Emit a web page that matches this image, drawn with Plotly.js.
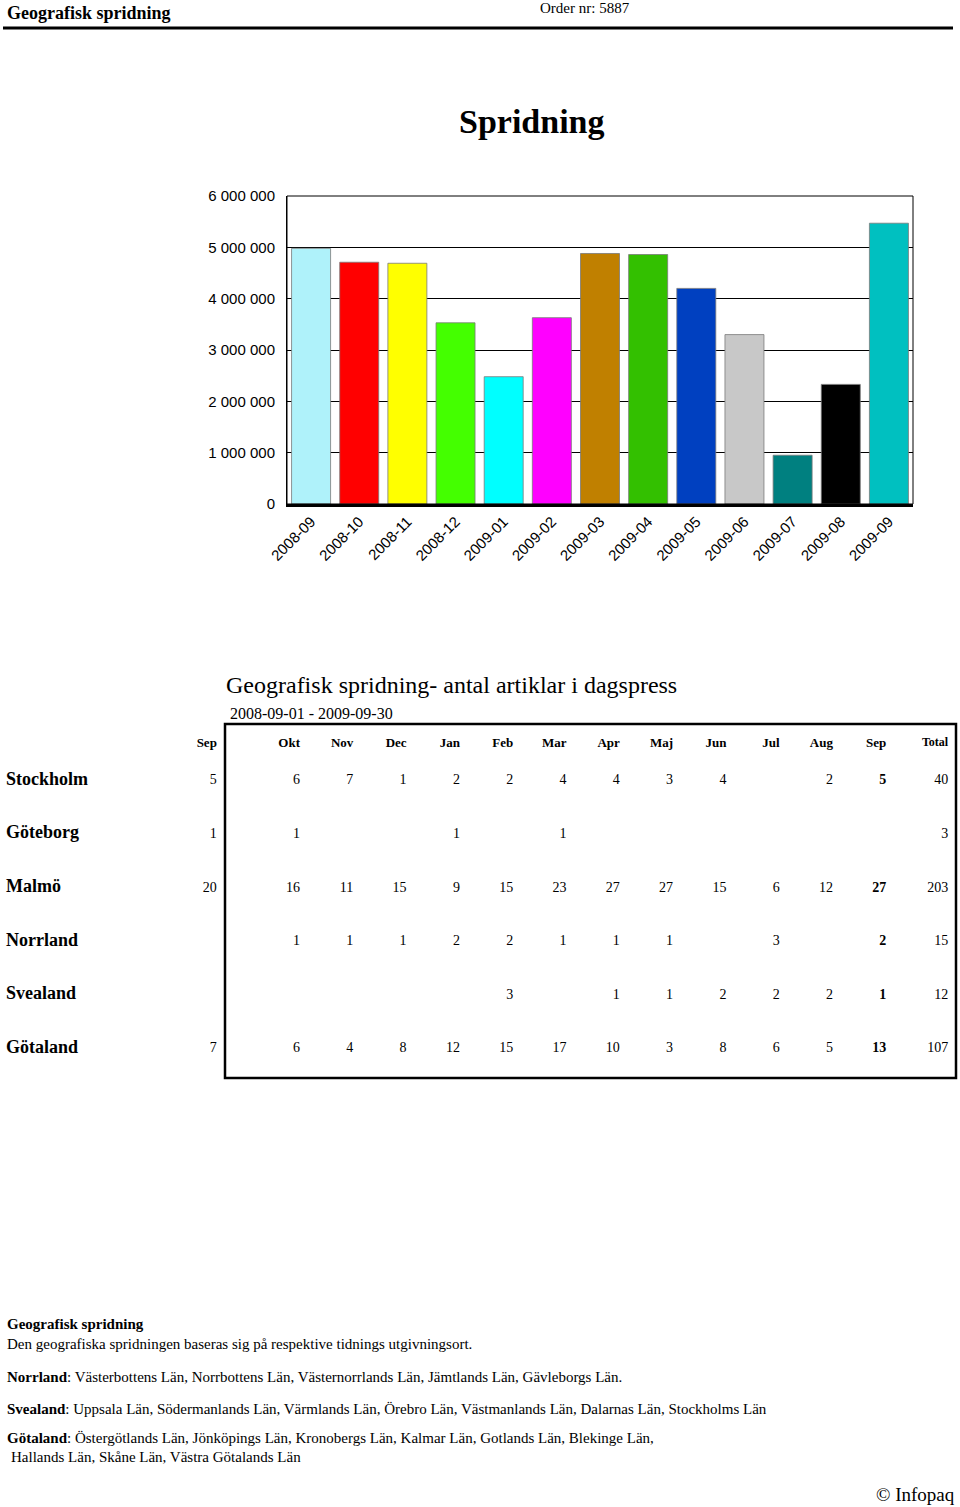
<!DOCTYPE html>
<html><head><meta charset="utf-8">
<script src="https://cdn.plot.ly/plotly-3.0.1.min.js"></script>
<style>html,body{margin:0;padding:0;background:#fff}#chart{width:960px;height:1507px}</style>
</head><body><div id="chart"></div>
<script>
// ---- data ----
const months = ['2008-09','2008-10','2008-11','2008-12','2009-01','2009-02','2009-03','2009-04','2009-05','2009-06','2009-07','2009-08','2009-09'];
const reach = [4980000,4710000,4690000,3530000,2480000,3630000,4880000,4860000,4200000,3300000,950000,2330000,5470000];
const barColors = ['#AFF2FA','#FF0000','#FFFF00','#44FF00','#00FFFF','#FF00FF','#C08000','#33C000','#0040C0','#C8C8C8','#008080','#000000','#00C0C0'];

const tableCols = ['Sep','Okt','Nov','Dec','Jan','Feb','Mar','Apr','Maj','Jun','Jul','Aug','Sep','Total'];
const regions = ['Stockholm','Göteborg','Malmö','Norrland','Svealand','Götaland'];
const stockholm = [5,6,7,1,2,2,4,4,3,4,null,2,5,40];
const goteborg  = [1,1,null,null,1,null,1,null,null,null,null,null,null,3];
const malmo     = [20,16,11,15,9,15,23,27,27,15,6,12,27,203];
const norrland  = [null,1,1,1,2,2,1,1,1,null,3,null,2,15];
const svealand  = [null,null,null,null,null,3,null,1,1,2,2,2,1,12];
const gotaland  = [7,6,4,8,12,15,17,10,3,8,6,5,13,107];
const tableRows = [stockholm,goteborg,malmo,norrland,svealand,gotaland];

const pageTitle = 'Geografisk spridning';
const orderText = 'Order nr: 5887';
const chartTitle = 'Spridning';
const tableTitle = 'Geografisk spridning- antal artiklar i dagspress';
const tableSub = '2008-09-01 - 2009-09-30';
const footer = [
  ['<b>Geografisk spridning</b>', 1324, 5],
  ['Den geografiska spridningen baseras sig på respektive tidnings utgivningsort.', 1344, 5],
  ['<b>Norrland</b>: Västerbottens Län, Norrbottens Län, Västernorrlands Län, Jämtlands Län, Gävleborgs Län.', 1377, 5],
  ['<b>Svealand</b>: Uppsala Län, Södermanlands Län, Värmlands Län, Örebro Län, Västmanlands Län, Dalarnas Län, Stockholms Län', 1409, 5],
  ['<b>Götaland</b>: Östergötlands Län, Jönköpings Län, Kronobergs Län, Kalmar Län, Gotlands Län, Blekinge Län,', 1438, 5],
  ['Hallands Län, Skåne Län, Västra Götalands Län', 1457, 9]
];

// ---- layout helpers ----
const W = 960, H = 1507;
const px = x => x / W;
const py = y => 1 - y / H;
const SERIF = 'Liberation Serif, Times New Roman, serif';
const SANS = 'Liberation Sans, Arial, sans-serif';

// column index positions on the table axis (first column sits left of the box)
const colX = tableCols.map((c, i) => i === 0 ? -0.56 : (i === 13 ? 13.16 : i));
const headerY = -0.7;
// table axis: index 1 -> 300px, step 53.3px
const step = 53.3, xr0 = -0.6, xr1 = 13.3;
const tx = v => 300 + step * (v - 1);

const traces = [];
traces.push({
  type: 'bar', x: months, y: reach,
  marker: {color: barColors, line: {color: '#7a7a7a', width: 0.8}},
  hoverinfo: 'x+y', xaxis: 'x', yaxis: 'y'
});

// table values
const vx = [], vy = [], vt = [];
tableRows.forEach((row, r) => {
  row.forEach((v, c) => {
    if (v === null) return;
    vx.push(colX[c]); vy.push(r);
    vt.push(c === 12 ? '<b>' + v + '</b>' : String(v));
  });
});
traces.push({
  type: 'scatter', mode: 'text', x: vx, y: vy, text: vt,
  textposition: 'middle left', cliponaxis: false,
  textfont: {family: SERIF, size: 14, color: '#000'},
  xaxis: 'x2', yaxis: 'y2', hoverinfo: 'skip', showlegend: false
});
// table headers
traces.push({
  type: 'scatter', mode: 'text', x: colX, y: tableCols.map(() => headerY),
  text: tableCols.map(c => '<b>' + c + '</b>'),
  textposition: 'middle left', cliponaxis: false,
  textfont: {family: SERIF, size: tableCols.map(c => c === 'Total' ? 12 : 13), color: '#000'},
  xaxis: 'x2', yaxis: 'y2', hoverinfo: 'skip', showlegend: false
});

const annotations = [
  {text: '<b>' + pageTitle + '</b>', x: px(5), y: py(13), xanchor: 'left', yanchor: 'middle', font: {family: SERIF, size: 18}},
  {text: orderText, x: px(538), y: py(8), xanchor: 'left', yanchor: 'middle', font: {family: SERIF, size: 15}},
  {text: '<b>' + chartTitle + '</b>', x: px(532), y: py(121), xanchor: 'center', yanchor: 'middle', font: {family: SERIF, size: 34}},
  {text: tableTitle, x: px(224), y: py(685), xanchor: 'left', yanchor: 'middle', font: {family: SERIF, size: 24}},
  {text: tableSub, x: px(228), y: py(713), xanchor: 'left', yanchor: 'middle', font: {family: SERIF, size: 16}},
  {text: '© Infopaq', x: px(957), y: py(1494), xanchor: 'right', yanchor: 'middle', font: {family: SERIF, size: 19}}
];
regions.forEach((r, i) => annotations.push({
  text: '<b>' + r + '</b>', xref: 'paper', yref: 'y2', x: px(4), y: i - 0.04,
  xanchor: 'left', yanchor: 'middle', font: {family: SERIF, size: 18}
}));
footer.forEach(f => annotations.push({
  text: f[0], x: px(f[2]), y: py(f[1]), xanchor: 'left', yanchor: 'middle',
  font: {family: SERIF, size: 15}, align: 'left'
}));
annotations.forEach(a => { if (!a.xref) a.xref = 'paper'; if (!a.yref) a.yref = 'paper'; a.showarrow = false; a.font.color = '#000'; });

const plotL = 287, plotR = 913, plotT = 196, plotB = 504;
const shapes = [
  {type: 'line', xref: 'paper', yref: 'paper', x0: px(3), x1: px(953), y0: py(28), y1: py(28), line: {color: '#000', width: 3}},
  {type: 'rect', xref: 'paper', yref: 'paper', x0: px(plotL), x1: px(plotR), y0: py(plotB), y1: py(plotT), line: {color: '#000', width: 1}, layer: 'above'},
  {type: 'rect', xref: 'paper', yref: 'paper', x0: px(225), x1: px(956), y0: py(1078), y1: py(724), line: {color: '#000', width: 2.5}}
];

const layout = {
  width: W, height: H, margin: {l: 0, r: 0, t: 0, b: 0},
  paper_bgcolor: '#fff', plot_bgcolor: '#fff', showlegend: false,
  separators: '. ',
  bargap: 0.19,
  xaxis: {domain: [px(plotL), px(plotR)], type: 'category', tickangle: -45,
    tickfont: {family: SANS, size: 15, color: '#000'}, showline: true, linecolor: '#000', linewidth: 3,
    ticks: '', showgrid: false, fixedrange: true},
  yaxis: {domain: [py(plotB), py(plotT)], range: [0, 6000000], dtick: 1000000, tickformat: ',d',
    tickfont: {family: SANS, size: 15, color: '#000'}, showgrid: true, gridcolor: '#000', gridwidth: 1,
    showline: true, linecolor: '#000', linewidth: 1, ticks: '', ticklabelstandoff: 8, zeroline: false, fixedrange: true},
  xaxis2: {domain: [px(tx(xr0)), px(tx(xr1))], range: [xr0, xr1], anchor: 'y2', visible: false, fixedrange: true},
  yaxis2: {domain: [py(1102.6), py(727.4)], range: [6, -1], anchor: 'x2', visible: false, fixedrange: true},
  annotations: annotations, shapes: shapes
};

Plotly.newPlot('chart', traces, layout, {displayModeBar: false, staticPlot: true});
</script></body></html>
